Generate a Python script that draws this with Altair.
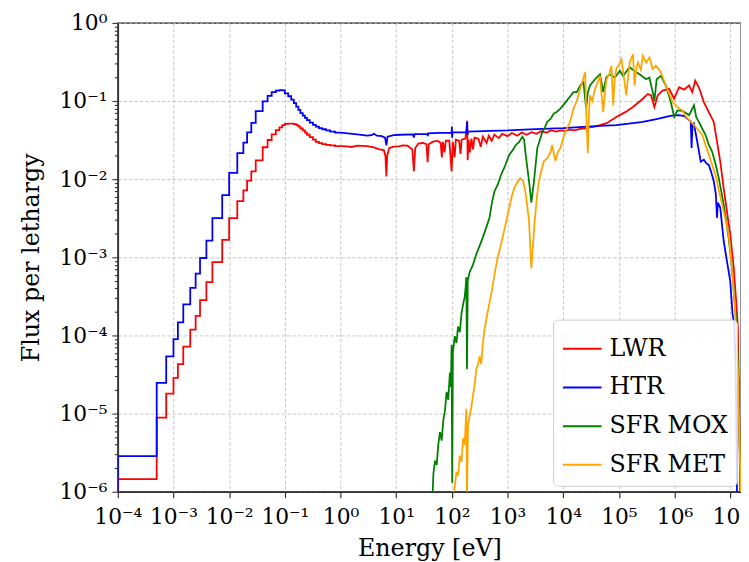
import altair as alt
import pandas as pd

# ---------------- data ----------------
series_names = ["LWR", "HTR", "SFR MOX", "SFR MET"]
series_colors = ["#ff0000", "#0000ff", "#008000", "#ffa500"]

# thermal group structure (eV) shared by LWR and HTR, values are per group
thermal_edges = [1e-5, 1e-4, 5e-4, 7.4e-4, 1e-3, 1.2e-3, 1.5e-3, 2e-3, 2.5e-3, 3e-3, 3.9e-3,
                 5e-3, 7.5e-3, 1e-2, 1.4e-2, 1.8e-2, 2.1e-2, 2.5e-2, 3e-2, 4e-2, 4.9e-2,
                 5.8e-2, 6.9e-2, 8e-2, 9e-2, 0.1, 0.115, 0.13, 0.145, 0.16, 0.175, 0.19,
                 0.21, 0.23, 0.25, 0.28, 0.32, 0.36, 0.41, 0.47, 0.55, 0.65, 0.8, 1.0]
lwr_thermal = [5e-7, 1.45e-6, 8.9e-6, 1.8e-5, 2.86e-5, 4.3e-5, 7.2e-5, 1.19e-4, 1.78e-4,
               2.84e-4, 4.8e-4, 8.7e-4, 1.67e-3, 3.17e-3, 5.25e-3, 7.2e-3, 9.6e-3, 1.26e-2,
               1.74e-2, 2.56e-2, 3.17e-2, 3.74e-2, 4.25e-2, 4.6e-2, 4.9e-2, 5.1e-2, 5.15e-2,
               5.15e-2, 5.05e-2, 4.9e-2, 4.7e-2, 4.45e-2, 4.2e-2, 3.95e-2, 3.7e-2, 3.45e-2,
               3.2e-2, 3.0e-2, 2.9e-2, 2.8e-2, 2.75e-2, 2.7e-2, 2.65e-2]
htr_thermal = [5e-7, 2.85e-6, 2.47e-5, 5.4e-5, 9.0e-5, 1.47e-4, 2.5e-4, 4.07e-4, 6.2e-4,
               9.8e-4, 1.63e-3, 3.17e-3, 6.25e-3, 1.2e-2, 2.15e-2, 2.93e-2, 3.96e-2, 5.26e-2,
               7.4e-2, 9.9e-2, 0.116, 0.13, 0.136, 0.138, 0.137, 0.125, 0.115, 0.104, 0.094,
               0.085, 0.077, 0.07, 0.065, 0.061, 0.057, 0.053, 0.0495, 0.047, 0.045, 0.0435,
               0.042, 0.0405, 0.0395]

# epithermal / fast parts (energy in eV, flux per lethargy)
lwr_E = [1.0, 1.3, 1.6, 2.0, 3.0, 4.0, 5.0, 6.0, 6.4, 6.67, 6.9, 7.5, 9.0, 11, 13, 16, 19.5,
         20.8, 22, 25, 30, 35, 36.7, 38.5, 45, 55, 63, 66, 69, 74, 78, 90, 99, 104, 112, 118,
         135, 143, 150, 175, 189, 192, 200, 210, 225, 240, 255, 300, 330, 360, 420, 460, 520,
         580, 700, 800, 1000, 1200, 1500, 1800, 2200, 2700, 3300, 4000, 5000, 6000, 7500,
         9000, 11000, 13000, 16000, 20000, 25000, 30000, 37000, 45700, 60000, 90000, 1.3e5,
         1.79e5, 2.69e5, 3.3e5, 3.78e5, 4.34e5, 4.97e5, 6.1e5, 8.0e5, 9.8e5, 1.21e6, 1.48e6,
         1.82e6, 2.08e6, 2.35e6, 2.73e6, 3.36e6, 4.12e6, 5.06e6, 5.78e6, 6.62e6, 7.61e6,
         8.71e6, 9.98e6, 1.15e7, 1.27e7, 1.37e7, 1.42e7, 1.48e7, 1.53e7]
lwr_F = [0.0265, 0.0262, 0.0258, 0.0268, 0.0265, 0.0255, 0.024, 0.0235, 0.020, 0.0108, 0.020,
         0.025, 0.026, 0.0262, 0.027, 0.0268, 0.024, 0.0126, 0.025, 0.0285, 0.029, 0.028,
         0.0165, 0.028, 0.030, 0.031, 0.029, 0.019, 0.030, 0.022, 0.031, 0.031, 0.0126, 0.030,
         0.019, 0.032, 0.031, 0.021, 0.032, 0.033, 0.056, 0.0175, 0.032, 0.022, 0.033, 0.024,
         0.034, 0.033, 0.026, 0.035, 0.029, 0.036, 0.031, 0.037, 0.0335, 0.038, 0.0355, 0.039,
         0.036, 0.0395, 0.037, 0.040, 0.038, 0.041, 0.0395, 0.042, 0.0405, 0.042, 0.0415,
         0.043, 0.042, 0.044, 0.0445, 0.046, 0.047, 0.049, 0.052, 0.0626, 0.072, 0.084, 0.107,
         0.123, 0.118, 0.084, 0.118, 0.136, 0.143, 0.107, 0.15, 0.14, 0.158, 0.13, 0.182, 0.15,
         0.097, 0.072, 0.054, 0.0303, 0.0168, 0.0077, 0.0039, 0.002, 7.6e-4, 2.9e-4, 1.3e-4,
         3e-5, 3e-6, 3e-7]

htr_E = [1.0, 2.0, 3.0, 3.6, 4.0, 4.5, 5.5, 6.3, 6.67, 7.0, 9.0, 12, 20, 20.8, 21.5, 36.5, 37,
         37.5, 60, 99, 100, 101, 103, 185, 188, 191, 195, 500, 1000, 3200, 1e4, 2.3e4, 4.57e4,
         9.0e4, 1.79e5, 2.69e5, 4.97e5, 7.0e5, 9.0e5, 1.2e6, 1.5e6, 1.82e6, 1.95e6, 2.02e6,
         2.1e6, 2.22e6, 2.55e6, 2.95e6, 3.36e6, 3.7e6, 4.12e6, 4.6e6, 5.06e6, 5.5e6, 5.78e6,
         6.0e6, 6.62e6, 7.61e6, 8.71e6, 9.98e6, 1.1e7, 1.19e7, 1.26e7, 1.31e7, 1.34e7]
htr_F = [0.0395, 0.0375, 0.036, 0.0365, 0.038, 0.036, 0.0355, 0.034, 0.027, 0.035, 0.0365,
         0.037, 0.0375, 0.034, 0.0378, 0.038, 0.0355, 0.0385, 0.039, 0.0395, 0.047, 0.034,
         0.0398, 0.040, 0.054, 0.037, 0.0405, 0.0415, 0.042, 0.0437, 0.045, 0.0468, 0.048,
         0.049, 0.052, 0.054, 0.059, 0.0626, 0.065, 0.066, 0.064, 0.057, 0.055, 0.025, 0.05,
         0.052, 0.0303, 0.0168, 0.0177, 0.016, 0.0152, 0.012, 0.0094, 0.0065, 0.0032, 0.005,
         0.0043, 0.00164, 9e-4, 5e-4, 1.9e-4, 1.3e-4, 3e-5, 2e-6, 3e-7]

mox_E = [44.7, 46.6, 49.9, 53.5, 57, 61.2, 65.6, 70.1, 75.2, 80.5, 86.1, 92.2, 96.1, 98.9,
         101.4, 104.3, 113, 121, 129, 139, 149, 159, 170, 177, 182, 187, 193, 209, 239, 275,
         315, 360, 414, 474, 525, 582, 666, 765, 875, 1074, 1213, 1413, 1617, 1851, 1985,
         2127, 2434, 2675, 2987, 3420, 3820, 4200, 4690, 5150, 5920, 6770, 7750, 8900, 10200,
         11700, 13400, 15300, 17500, 20200, 23100, 25800, 27700, 30300, 37200, 45700, 52300,
         59200, 68800, 84500, 1.04e5, 1.19e5, 1.56e5, 1.91e5, 2.35e5, 3.08e5, 3.53e5, 4.05e5,
         4.34e5, 4.77e5, 5.69e5, 6.98e5, 8.56e5, 9.84e5, 1.13e6, 1.38e6, 1.82e6, 2.23e6,
         2.45e6, 2.73e6, 3.13e6, 3.59e6, 4.12e6, 4.72e6, 5.4e6, 6.21e6, 7.61e6, 9.35e6,
         1.07e7, 1.23e7, 1.31e7, 1.40e7, 1.48e7, 1.58e7]
mox_F = [8e-7, 1.7e-6, 2.5e-6, 2.2e-6, 4e-6, 5.8e-6, 4.5e-6, 8.2e-6, 1.1e-5, 1.9e-5, 1.5e-5,
         3.35e-5, 2.2e-5, 7.6e-5, 1.3e-6, 6e-5, 9.8e-5, 8e-5, 1.3e-4, 1.1e-4, 1.9e-4, 2.5e-4,
         3.1e-4, 4.2e-4, 5.6e-4, 3.7e-5, 5e-4, 6.5e-4, 8e-4, 1.1e-3, 1.4e-3, 1.8e-3, 2.4e-3,
         3.2e-3, 5.0e-3, 7e-3, 8.5e-3, 1.14e-2, 1.4e-2, 2.05e-2, 2.3e-2, 2.74e-2, 3.0e-2,
         3.5e-2, 3.2e-2, 2.0e-2, 9.4e-3, 5e-3, 9.4e-3, 2.5e-2, 3.2e-2, 4.0e-2, 4.6e-2, 5.4e-2,
         5.9e-2, 6.9e-2, 7.3e-2, 8e-2, 9e-2, 0.102, 0.115, 0.13, 0.13, 0.158, 0.174, 0.08,
         0.13, 0.158, 0.19, 0.22, 0.13, 0.2, 0.22, 0.2, 0.244, 0.21, 0.27, 0.24, 0.22, 0.19,
         0.2, 0.13, 0.10, 0.19, 0.21, 0.158, 0.097, 0.0626, 0.076, 0.075, 0.066, 0.088, 0.062,
         0.054, 0.0445, 0.037, 0.0274, 0.0226, 0.016, 0.0104, 4.8e-3, 1.8e-3, 7.6e-4, 2.1e-4,
         1.3e-4, 2.8e-5, 3.5e-6, 8e-7]

met_E = [106, 113, 121, 129, 139, 149, 159, 170, 182, 187, 195, 209, 224, 239, 256, 275, 294,
         315, 337, 360, 386, 428, 474, 525, 582, 666, 713, 817, 938, 1074, 1191, 1319, 1490,
         1686, 1906, 2127, 2434, 2675, 3070, 3375, 3660, 4060, 4500, 5150, 5920, 6310, 7260,
         7980, 8920, 10200, 11700, 13400, 15300, 17500, 20200, 22200, 24800, 26100, 27600,
         29000, 30400, 33400, 37200, 40900, 45700, 48800, 52300, 56100, 60000, 67000, 73600,
         78900, 84500, 90200, 1.01e5, 1.11e5, 1.21e5, 1.36e5, 1.46e5, 1.56e5, 1.79e5, 1.91e5,
         2.06e5, 2.19e5, 2.48e5, 2.69e5, 3.08e5, 3.53e5, 4.05e5, 4.63e5, 5.69e5, 6.98e5,
         9.18e5, 1.21e6, 1.38e6, 1.58e6, 2.08e6, 2.73e6, 3.13e6, 4.12e6, 5.4e6, 6.95e6,
         9.35e6, 1.07e7, 1.19e7, 1.27e7, 1.37e7, 1.45e7, 1.55e7, 1.6e7]
met_F = [8e-7, 1.2e-6, 1.8e-6, 1.6e-6, 2.9e-6, 2.4e-6, 4.8e-6, 4e-6, 1.15e-5, 8e-7, 7e-6,
         9.4e-6, 1.2e-5, 1.7e-5, 2.3e-5, 3.7e-5, 4.2e-5, 5.4e-5, 4.3e-5, 8e-5, 1.2e-4, 1.8e-4,
         2.6e-4, 3.8e-4, 6.0e-4, 1.0e-3, 1.2e-3, 1.8e-3, 2.8e-3, 4.3e-3, 6e-3, 7.7e-3, 9e-3,
         1.03e-2, 9.5e-3, 6.5e-3, 2.9e-3, 7.2e-4, 2.9e-3, 6e-3, 9.4e-3, 1.3e-2, 1.7e-2,
         1.86e-2, 2.2e-2, 2.74e-2, 1.7e-2, 2.2e-2, 2.5e-2, 3.5e-2, 4.45e-2, 5.5e-2, 8e-2, 0.10,
         0.143, 0.18, 0.233, 0.06, 0.0215, 0.07, 0.118, 0.1, 0.143, 0.17, 0.21, 0.12, 0.072,
         0.13, 0.19, 0.22, 0.283, 0.088, 0.2, 0.26, 0.29, 0.343, 0.22, 0.118, 0.2, 0.311,
         0.397, 0.158, 0.26, 0.311, 0.25, 0.38, 0.311, 0.36, 0.256, 0.283, 0.233, 0.158, 0.097,
         0.08, 0.076, 0.064, 0.052, 0.042, 0.037, 0.0206, 0.0114, 5.2e-3, 2e-3, 7.6e-4, 2.8e-4,
         1.3e-4, 3.7e-5, 6.3e-6, 1e-6, 5e-7]

x_ticks = [10.0 ** k for k in range(-4, 8)]
y_ticks = [10.0 ** k for k in range(-6, 1)] + [m * 10.0 ** k for k in range(-6, 0) for m in range(2, 10)]

# ---------------- build table ----------------
rows = []


def add(name, pts):
    for i, (e, f) in enumerate(pts):
        rows.append({"series": name, "E": e, "F": f, "idx": i})


def steps(edges, vals):
    pts = []
    for i, v in enumerate(vals):
        pts.append((edges[i], v))
        pts.append((edges[i + 1], v))
    return pts


add("LWR", steps(thermal_edges, lwr_thermal) + list(zip(lwr_E, lwr_F)))
add("HTR", steps(thermal_edges, htr_thermal) + list(zip(htr_E, htr_F)))
add("SFR MOX", list(zip(mox_E, mox_F)))
add("SFR MET", list(zip(met_E, met_F)))
df = pd.DataFrame(rows)

FONT = "DejaVu Serif"
EXP = "round(log(datum.value)/LN10)"
SUP = f"'10' + ({EXP} < 0 ? '\u207b' : '') + substring('\u2070\u00b9\u00b2\u00b3\u2074\u2075\u2076\u2077\u2078\u2079', abs({EXP}), abs({EXP}) + 1)"
MAJOR = f"abs(log(datum.value)/LN10 - {EXP}) < 0.001"

x_enc = alt.X(
    "E:Q",
    scale=alt.Scale(type="log", domain=[1e-4, 1.56e7], nice=False),
    axis=alt.Axis(
        values=x_ticks, labelExpr=SUP, title="Energy [eV]",
        grid=True, gridDash=[3.5, 2], gridColor="#b8b8b8", gridWidth=0.8,
        tickSize=6, tickColor="#333333", tickWidth=1.2,
        domainColor="#333333", domainWidth=1.6,
        labelFont=FONT, labelFontSize=22, labelColor="black", labelPadding=9,
        labelOverlap=False, labelFlush=False,
        titleFont=FONT, titleFontSize=24, titleFontWeight="normal", titleColor="black",
        titlePadding=9,
    ),
)
y_enc = alt.Y(
    "F:Q",
    scale=alt.Scale(type="log", domain=[1e-6, 1.0], nice=False),
    axis=alt.Axis(
        values=y_ticks, labelExpr=f"{MAJOR} ? {SUP} : ''", title="Flux per lethargy",
        grid=True, gridDash=[3.5, 2], gridColor="#b8b8b8", gridWidth=0.8,
        gridOpacity={"condition": {"test": MAJOR, "value": 1}, "value": 0},
        tickSize={"condition": {"test": MAJOR, "value": 6}, "value": 3.5},
        tickColor="#333333", tickWidth=1.1,
        domainColor="#333333", domainWidth=1.6,
        labelFont=FONT, labelFontSize=22, labelColor="black", labelPadding=5,
        labelOverlap=False,
        titleFont=FONT, titleFontSize=24, titleFontWeight="normal", titleColor="black",
        titlePadding=16,
    ),
)
color_enc = alt.Color(
    "series:N",
    scale=alt.Scale(domain=series_names, range=series_colors),
    legend=alt.Legend(
        title=None, orient="none", legendX=440, legendY=300,
        fillColor="rgba(255,255,255,0.85)", strokeColor="#cccccc", cornerRadius=5,
        padding=9, labelFont=FONT, labelFontSize=24, labelColor="black",
        symbolType="stroke", symbolSize=1521, symbolStrokeWidth=2, labelOffset=7,
        rowPadding=6.1, labelLimit=400,
    ),
)

base = alt.Chart(df).mark_line(strokeWidth=1.8, clip=True).encode(
    x=x_enc, y=y_enc, color=color_enc, order=alt.Order("idx:Q")
)
layers = [base.transform_filter(alt.datum.series == s) for s in series_names]

chart = alt.layer(*layers).properties(
    width=630, height=474,
    autosize=alt.AutoSizeParams(type="none"),
    padding={"left": 111, "top": 12, "right": 0, "bottom": 68},
    background="white",
).configure_view(stroke="#111111", strokeWidth=1.3)

chart.save("out.html", embed_options={"renderer": "svg", "actions": False})
